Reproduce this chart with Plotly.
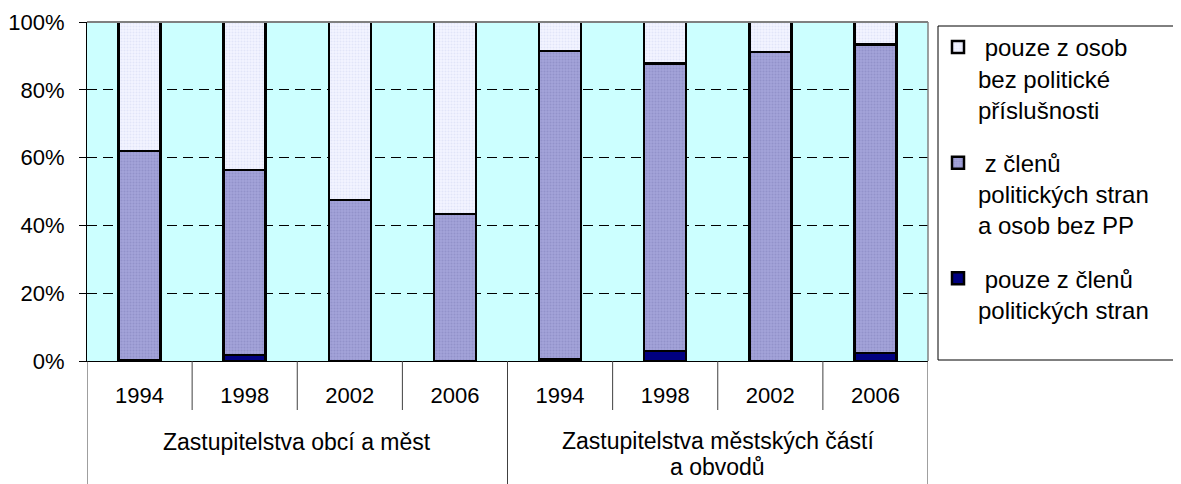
import plotly.graph_objects as go

groups = ["Zastupitelstva obcí a měst", "Zastupitelstva městských částí a obvodů"]
years = ["1994", "1998", "2002", "2006", "1994", "1998", "2002", "2006"]

series_names = [
    "pouze z členů<br>politických stran",
    "z členů<br>politických stran<br>a osob bez PP",
    "pouze z osob<br>bez politické<br>příslušnosti",
]
only_party = [0.3, 1.8, 0.0, 0.0, 0.5, 3.0, 0.0, 2.3]
mixed = [61.7, 54.5, 47.5, 43.4, 91.0, 84.8, 91.2, 91.0]
only_nonparty = [38.0, 43.7, 52.5, 56.6, 8.5, 12.2, 8.8, 6.7]

FONT = "Liberation Sans, Arial, sans-serif"
xpos = list(range(len(years)))

# page body has an 8px default margin; figure is sized to fill the rest
W, H = 1173, 476
OFF = 8

fig = go.Figure()
styles = [
    dict(color="#000080", pattern=None),
    dict(color="#9C9CD4", pattern=dict(shape=".", fgcolor="#8282BC", bgcolor="#A2A2D8", size=3, solidity=0.35)),
    dict(color="#EEF0FF", pattern=dict(shape=".", fgcolor="#D2D6F2", bgcolor="#F2F4FF", size=3, solidity=0.35)),
]
n_series = len(series_names)
for i, (name, vals) in enumerate(zip(series_names, [only_party, mixed, only_nonparty])):
    marker = dict(color=styles[i]["color"], line=dict(color="black", width=2.5))
    if styles[i]["pattern"]:
        marker["pattern"] = styles[i]["pattern"]
    parts = name.split("<br>")
    parts[0] = " " + parts[0]
    fig.add_trace(go.Bar(
        x=xpos, y=vals, name="<br>".join(parts), marker=marker, width=0.4,
        legendgroup=f"g{i}", legendrank=n_series - i,
    ))

top = 22 - OFF
left = 87 - OFF
plot_bottom = 361 - OFF
plot_right = 928 - OFF
plot_w = 928 - 87
plot_h = 361 - 22
fig.update_layout(
    width=W, height=H,
    barmode="stack",
    margin=dict(l=left, r=W - plot_right, t=top, b=H - plot_bottom, autoexpand=False),
    paper_bgcolor="white",
    plot_bgcolor="#CCFFFF",
    font=dict(family=FONT, size=22, color="black"),
    showlegend=True,
    legend=dict(
        x=(938 - 87) / plot_w, y=1 - (25 - 22) / plot_h, xanchor="left", yanchor="top",
        bgcolor="rgba(0,0,0,0)", borderwidth=0,
        font=dict(family=FONT, size=24, color="black"),
        traceorder="grouped", tracegroupgap=19, valign="top",
    ),
)
fig.update_xaxes(
    range=[-0.5, len(years) - 0.5],
    tickvals=xpos, ticktext=years, ticks="", showgrid=False,
    showline=True, linecolor="black", linewidth=1,
    ticklabelstandoff=15, tickfont=dict(size=22),
    zeroline=False,
)
fig.update_yaxes(
    range=[0, 100], dtick=20, ticksuffix="%",
    ticks="outside", ticklen=7, tickcolor="black", tickwidth=1,
    showline=True, linecolor="black", linewidth=1,
    showgrid=True, gridcolor="black", gridwidth=1, griddash="10px,6px",
    ticklabelstandoff=10, tickfont=dict(size=22), zeroline=False,
)

# legend frame
fig.add_shape(type="rect", xref="paper", yref="paper",
              x0=(938 - 87) / plot_w, x1=(1195 - 87) / plot_w,
              y0=1 - (360 - 22) / plot_h, y1=1 - (26 - 22) / plot_h,
              line=dict(color="black", width=1), fillcolor="white", layer="below")

# border top/right (gray)
fig.add_shape(type="line", xref="paper", yref="paper", x0=0, x1=1, y0=1, y1=1,
              line=dict(color="#808080", width=2), layer="above")
fig.add_shape(type="line", xref="paper", yref="paper", x0=1, x1=1, y0=0, y1=1,
              line=dict(color="#808080", width=1.5), layer="above")

# category separators
short = -(410 - 361) / plot_h
long_ = -(490 - 361) / plot_h
n_per_group = 4
for k in range(len(years) + 1):
    is_group = k % n_per_group == 0
    fig.add_shape(type="line", xref="x", yref="paper", x0=k - 0.5, x1=k - 0.5,
                  y0=0, y1=long_ if is_group else short,
                  line=dict(color="#404040", width=1))

# group labels
fig.add_annotation(x=1.5, xref="x", y=-(442 - 361) / plot_h, yref="paper",
                   text=groups[0], showarrow=False, yanchor="middle",
                   font=dict(size=23))
g2 = groups[1].rsplit(" a ", 1)
fig.add_annotation(x=5.5, xref="x", y=-(441 - 361) / plot_h, yref="paper",
                   text=g2[0], showarrow=False, yanchor="middle",
                   font=dict(size=23))
fig.add_annotation(x=5.5, xref="x", y=-(467 - 361) / plot_h, yref="paper",
                   text="a " + g2[1], showarrow=False, yanchor="middle",
                   font=dict(size=23))

fig.write_html("out.html")
